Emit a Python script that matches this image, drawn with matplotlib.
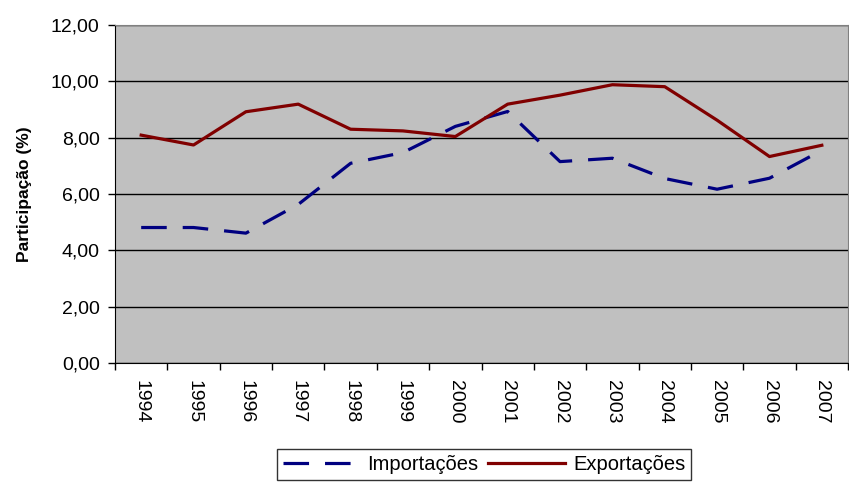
import numpy as np
import matplotlib.pyplot as plt

plt.rcParams['font.family'] = ['Liberation Sans', 'DejaVu Sans']

anos = ['1994', '1995', '1996', '1997', '1998', '1999', '2000',
        '2001', '2002', '2003', '2004', '2005', '2006', '2007']
importacoes = [4.81, 4.81, 4.61, 5.63, 7.09, 7.47, 8.40,
               8.93, 7.15, 7.27, 6.55, 6.17, 6.56, 7.55]
exportacoes = [8.09, 7.74, 8.92, 9.19, 8.30, 8.24, 8.04,
               9.19, 9.51, 9.88, 9.81, 8.62, 7.33, 7.73]

fig = plt.figure(figsize=(8.49, 4.82), dpi=100)
ax = fig.add_axes([115 / 849, 1 - 363 / 482, 733 / 849, 338 / 482])
ax.set_facecolor('#c0c0c0')

x = np.arange(len(anos))
ax.plot(x, importacoes, color='#000080', lw=2.3, dashes=(8, 5), label='Importações')
ax.plot(x, exportacoes, color='#800000', lw=2.3, label='Exportações')

ax.set_xlim(-0.5, len(anos) - 0.5)
ax.set_ylim(0, 12)
ticks_y = np.arange(0, 13, 2)
ax.set_yticks(ticks_y)
ax.set_yticklabels([('%.2f' % v).replace('.', ',') for v in ticks_y])
ax.yaxis.grid(True, color='black', lw=1)
ax.set_axisbelow(True)

ax.set_xticks(x)
ax.set_xticklabels(anos, rotation=270)
ax.set_xticks(np.arange(-0.5, len(anos)), minor=True)
ax.tick_params(axis='x', which='major', length=0, pad=12, labelsize=14)
ax.tick_params(axis='x', which='minor', length=5, width=1, direction='out')
ax.tick_params(axis='y', length=5, width=1, direction='out', labelsize=14, pad=6)

for s in ['top', 'right']:
    ax.spines[s].set_color('#808080')
ax.spines['left'].set_color('black')
ax.spines['bottom'].set_color('black')

ax.set_ylabel('Participação (%)', fontsize=12.5, fontweight='bold')
ax.yaxis.set_label_coords(-83 / 733, 0.5)

leg = fig.legend(loc='upper center', bbox_to_anchor=(484 / 849, 1 - 449 / 482), ncol=2,
                 frameon=True, fancybox=False, edgecolor='black', fontsize=14.5,
                 handlelength=3.8, columnspacing=0.5, handletextpad=0.4,
                 borderpad=0.3, borderaxespad=0)
leg.get_frame().set_linewidth(1)

fig.savefig('out.png', dpi=100)
